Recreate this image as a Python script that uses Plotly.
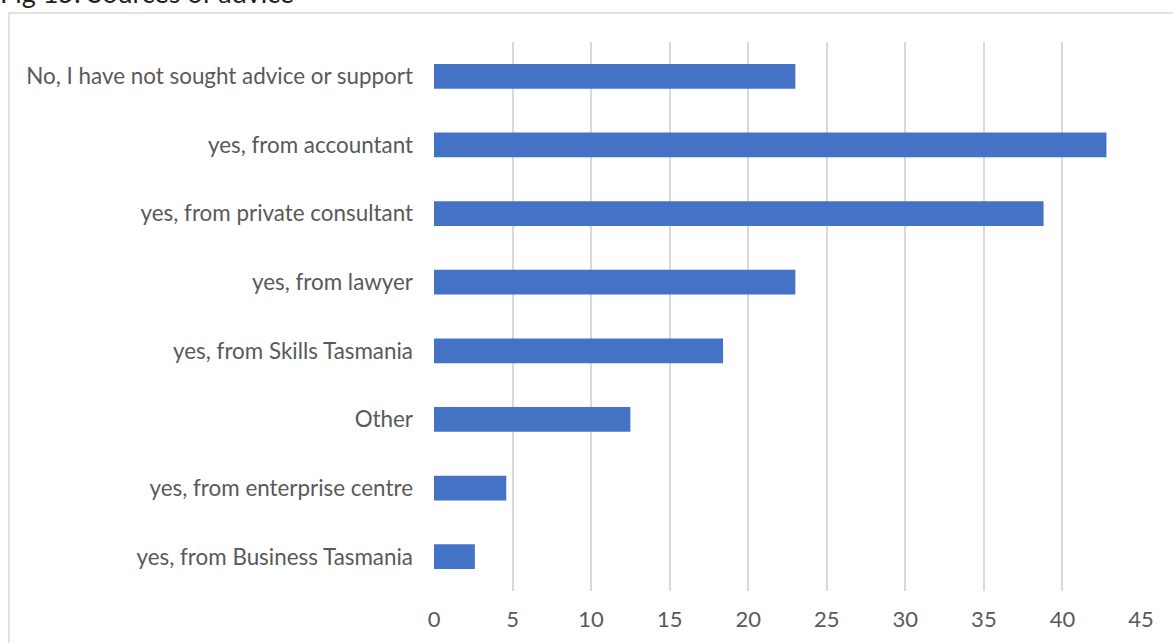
import plotly.graph_objects as go

# Survey responses: where businesses sought advice (percent of respondents)
categories = [
    "No, I have not sought advice or support",
    "yes, from accountant",
    "yes, from private consultant",
    "yes, from lawyer",
    "yes, from Skills Tasmania",
    "Other",
    "yes, from enterprise centre",
    "yes, from Business Tasmania",
]
values = [23.0, 42.8, 38.8, 23.0, 18.4, 12.5, 4.6, 2.6]
x_ticks = [0, 5, 10, 15, 20, 25, 30, 35, 40, 45]
title_text = "Fig 15: Sources of advice"

W, H = 1173, 643
L, R, T, B = 434, 32, 42, 52
pw, ph = W - L - R, H - T - B

def px_x(p):
    return (p - L) / pw

def px_y(p):
    return (H - B - p) / ph

fig = go.Figure(
    go.Bar(
        y=categories,
        x=values,
        orientation="h",
        marker=dict(color="#4472C4", line=dict(width=0)),
        hoverinfo="x+y",
    )
)

fig.update_layout(
    width=W,
    height=H,
    margin=dict(l=L, r=R, t=T, b=B),
    paper_bgcolor="white",
    plot_bgcolor="white",
    bargap=0.64,
    showlegend=False,
    font=dict(family="Lato", size=22, color="#595959"),
    xaxis=dict(
        range=[0, 45],
        tickvals=x_ticks,
        showgrid=True,
        gridcolor="#D9D9D9",
        gridwidth=1.5,
        zeroline=False,
        showline=False,
        ticks="",
        ticklabelstandoff=13,
        tickfont=dict(family="Lato", size=22, color="#595959"),
        fixedrange=True,
    ),
    yaxis=dict(
        categoryorder="array",
        categoryarray=categories[::-1],
        autorange=False,
        range=[-0.5, len(categories) - 0.5],
        showgrid=False,
        zeroline=False,
        showline=False,
        ticks="",
        ticklabelstandoff=20,
        tickfont=dict(family="Lato", size=22.4, color="#595959"),
        fixedrange=True,
    ),
    shapes=[
        # chart frame
        dict(
            type="rect",
            xref="paper",
            yref="paper",
            x0=px_x(9),
            x1=px_x(W + 20),
            y0=px_y(H + 20),
            y1=px_y(13),
            line=dict(color="#D9D9D9", width=1.5),
            fillcolor="rgba(0,0,0,0)",
            layer="below",
        ),
    ],
    annotations=[
        dict(
            text=title_text,
            xref="paper",
            yref="paper",
            x=px_x(-2),
            y=px_y(11),
            xanchor="left",
            yanchor="bottom",
            showarrow=False,
            font=dict(family="Lato", size=27, color="#1F1F1F"),
        )
    ],
)

fig.write_html("out.html", config={"displayModeBar": False})
